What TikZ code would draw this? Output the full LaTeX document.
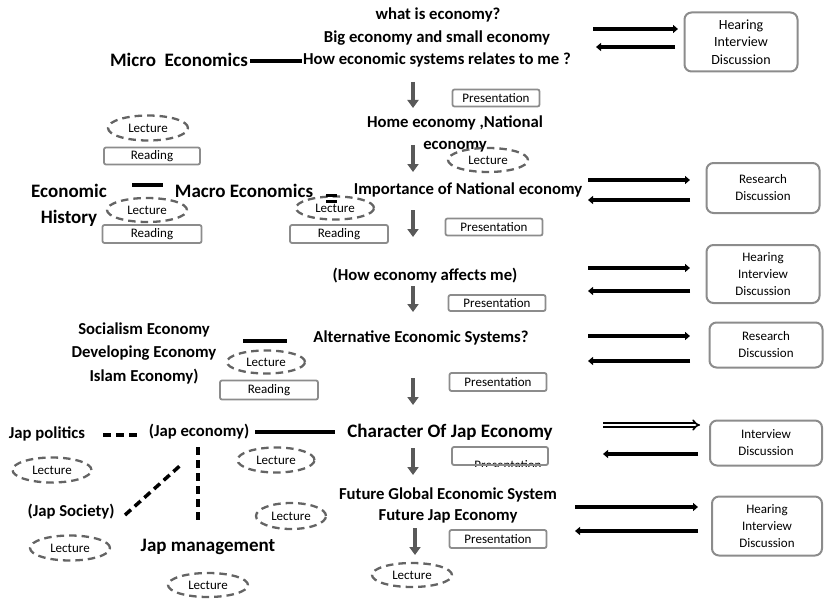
\documentclass[tikz,border=0pt]{standalone}
\usepackage{fontspec}
\setmainfont{Carlito}
\usetikzlibrary{arrows.meta,shapes.geometric}
\definecolor{lecgray}{HTML}{646464}
\definecolor{boxgray}{HTML}{8C8C8C}
\definecolor{flowgray}{HTML}{595959}
\begin{document}
\begin{tikzpicture}[x=1pt,y=-1pt,
  topic/.style={font=\bfseries\fontsize{16.7}{22}\selectfont, inner sep=0pt, align=center},
  bigtopic/.style={font=\bfseries\fontsize{19}{26}\selectfont, inner sep=0pt, align=center},
  lecture/.style={ellipse, draw=lecgray, dash pattern=on 7.5pt off 5pt, line width=2.3pt,
    inner sep=0pt, font=\fontsize{13}{15}\selectfont},
  tag/.style={rectangle, rounded corners=2pt, draw=boxgray, line width=1.8pt, inner sep=0pt,
    font=\fontsize{13}{15}\selectfont},
  activity/.style={rectangle, rounded corners=7pt, draw=boxgray, line width=2pt, inner sep=0pt,
    align=center, font=\fontsize{13}{17}\selectfont},
  flow/.style={draw=flowgray, line width=4pt, -{Triangle[width=11pt,length=8pt]}},
  link/.style={draw=black, line width=4.5pt, -{Triangle[width=8pt,length=5pt]}},
  openlink/.style={draw=black, double=white, double distance=2pt, line width=1.6pt, -{Implies}},
  bar/.style={draw=black, line width=3.5pt},
  dashbar/.style={draw=black, line width=3.5pt, dash pattern=on 8pt off 5pt},
]
\useasboundingbox (0,0) rectangle (827,599);

% ---- topics ----
\node[topic] (q1) at (438,15) {what is economy?};
\node[topic] (q2) at (437,38) {Big economy and small economy};
\node[topic] (q3) at (437,60) {How economic systems relates to me ?};
\node[bigtopic] (micro) at (179,60) {Micro\ \ Economics};
\node[topic] (home) at (455,134) {Home economy ,National\\economy};
\node[topic] (imp) at (468,190) {Importance of National economy};
\node[bigtopic] (macro) at (244,191) {Macro Economics};
\node[bigtopic] (hist) at (69,205) {Economic\\History};
\node[topic] (how) at (425,276) {(How economy affects me)};
\node[topic, font=\bfseries\fontsize{16.7}{23.5}\selectfont] (soc) at (144,353) {Socialism Economy\\Developing Economy\\Islam Economy)};
\node[topic] (alt) at (421,338) {Alternative Economic Systems?};
\node[topic] (pol) at (47,434) {Jap politics};
\node[topic] (jeco) at (199,432) {(Jap economy)};
\node[bigtopic] (char) at (450,432) {Character Of Jap Economy};
\node[topic] (soci) at (71,512) {(Jap Society)};
\node[bigtopic] (mgmt) at (208,547) {Jap management};
\node[topic, font=\bfseries\fontsize{16.7}{21}\selectfont] (fut) at (448,505) {Future Global Economic System\\Future Jap Economy};

% ---- lectures ----
\node[lecture, minimum width=80pt, minimum height=25pt] (l1) at (148,128) {Lecture};
\node[lecture, minimum width=80pt, minimum height=24pt] (l2) at (488,160) {Lecture};
\node[lecture, minimum width=80pt, minimum height=24pt] (l3) at (147,210) {Lecture};
\node[lecture, minimum width=78pt, minimum height=23pt] (l4) at (335,208) {Lecture};
\node[lecture, minimum width=78pt, minimum height=23pt] (l5) at (266,362) {Lecture};
\node[lecture, minimum width=79pt, minimum height=25pt] (l6) at (52,470) {Lecture};
\node[lecture, minimum width=77pt, minimum height=25pt] (l7) at (276,460) {Lecture};
\node[lecture, minimum width=70pt, minimum height=26pt] (l8) at (291,516) {Lecture};
\node[lecture, minimum width=80pt, minimum height=25pt] (l9) at (70,548) {Lecture};
\node[lecture, minimum width=80pt, minimum height=24pt] (l10) at (208,585) {Lecture};
\node[lecture, minimum width=80pt, minimum height=24pt] (l11) at (412,575) {Lecture};

% ---- readings ----
\node[tag, minimum width=96pt, minimum height=17pt] (r1) at (152,156) {Reading};
\node[tag, minimum width=99pt, minimum height=18pt] (r2) at (152,234) {Reading};
\node[tag, minimum width=98pt, minimum height=18pt] (r3) at (339,234) {Reading};
\node[tag, minimum width=98pt, minimum height=19pt] (r4) at (269,390) {Reading};

% ---- presentations ----
\node[tag, minimum width=87pt, minimum height=17pt] (p1) at (496,98) {Presentation};
\node[tag, minimum width=97pt, minimum height=17pt] (p2) at (494,227) {Presentation};
\node[tag, minimum width=97pt, minimum height=16pt] (p3) at (497,303) {Presentation};
\node[tag, minimum width=97pt, minimum height=18pt] (p4) at (498,382) {Presentation};
\begin{scope}
  \clip (452,447) rectangle (548,466);
  \node[font=\fontsize{13}{15}\selectfont, inner sep=0pt, anchor=base] (p5text) at (508,469) {Presentation};
\end{scope}
\node[tag, minimum width=96pt, minimum height=18pt] (p5) at (500,456) {};
\node[tag, minimum width=97pt, minimum height=18pt] (p6) at (498,539) {Presentation};

% ---- activities ----
\node[activity, minimum width=113pt, minimum height=59pt, font=\fontsize{14}{17.5}\selectfont] (a1) at (741,42) {Hearing\\Interview\\Discussion};
\node[activity, minimum width=113pt, minimum height=50pt] (a2) at (763,188) {Research\\Discussion};
\node[activity, minimum width=113pt, minimum height=58pt] (a3) at (763,274) {Hearing\\Interview\\Discussion};
\node[activity, minimum width=113pt, minimum height=45pt] (a4) at (766,345) {Research\\Discussion};
\node[activity, minimum width=112pt, minimum height=45pt] (a5) at (766,443) {Interview\\Discussion};
\node[activity, minimum width=110pt, minimum height=59pt] (a6) at (767,526) {Hearing\\Interview\\Discussion};

% ---- flow down the centre ----
\coordinate (f1a) at (413,82);  \coordinate (f1b) at (413,108);
\coordinate (f2a) at (413,145); \coordinate (f2b) at (413,172);
\coordinate (f3a) at (413,210); \coordinate (f3b) at (413,237);
\coordinate (f4a) at (413,286); \coordinate (f4b) at (413,312);
\coordinate (f5a) at (413,378); \coordinate (f5b) at (413,405);
\coordinate (f6a) at (413,448); \coordinate (f6b) at (413,475);
\coordinate (f7a) at (415,528); \coordinate (f7b) at (415,555);
\foreach \i in {1,...,7} \draw[flow] (f\i a) -- (f\i b);

% ---- links to the activities ----
\coordinate (k1a) at (593,29);  \coordinate (k1b) at (678,29);
\coordinate (k1c) at (675,47);  \coordinate (k1d) at (596,47);
\coordinate (k2a) at (588,180); \coordinate (k2b) at (690,180);
\coordinate (k2c) at (690,200); \coordinate (k2d) at (588,200);
\coordinate (k3a) at (588,268); \coordinate (k3b) at (690,268);
\coordinate (k3c) at (690,291); \coordinate (k3d) at (588,291);
\coordinate (k4a) at (588,336); \coordinate (k4b) at (690,336);
\coordinate (k4c) at (690,361); \coordinate (k4d) at (588,361);
\coordinate (k5a) at (603,425); \coordinate (k5b) at (700,425);
\coordinate (k5c) at (698,454); \coordinate (k5d) at (603,454);
\coordinate (k6a) at (575,507); \coordinate (k6b) at (698,507);
\coordinate (k6c) at (698,531); \coordinate (k6d) at (575,531);
\foreach \i in {1,2,3,4,6} {
  \draw[link] (k\i a) -- (k\i b);
  \draw[link] (k\i c) -- (k\i d);
}
\draw[openlink] (k5a) -- (k5b);
\draw[link] (k5c) -- (k5d);

% ---- side connectors ----
\coordinate (m1) at (250,61); \coordinate (m2) at (302,61);
\draw[bar] (m1) -- (m2);
\coordinate (h1) at (132,185); \coordinate (h2) at (163,185);
\draw[bar] (h1) -- (h2);
\coordinate (e1) at (326,195); \coordinate (e2) at (337,195);
\coordinate (e3) at (326,201); \coordinate (e4) at (337,201);
\draw[draw=black, line width=3pt] (e1) -- (e2) (e3) -- (e4);
\coordinate (s1) at (243,341); \coordinate (s2) at (287,341);
\draw[bar] (s1) -- (s2);
\coordinate (j1) at (103,435); \coordinate (j2) at (137,435);
\draw[dashbar] (j1) -- (j2);
\coordinate (j3) at (255,432); \coordinate (j4) at (335,432);
\draw[bar] (j3) -- (j4);
\coordinate (d1) at (125,515); \coordinate (d2) at (183,463);
\draw[dashbar] (d1) -- (d2);
\coordinate (v1) at (198,447); \coordinate (v2) at (198,524);
\draw[dashbar] (v1) -- (v2);
\end{tikzpicture}
\end{document}
